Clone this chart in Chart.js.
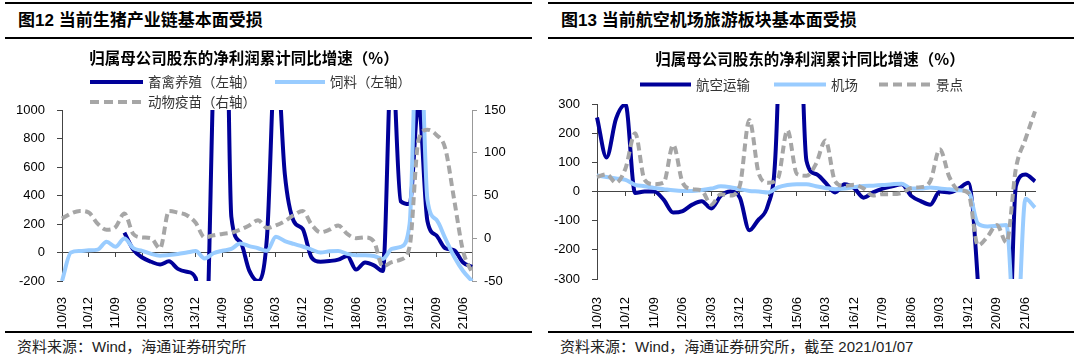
<!DOCTYPE html>
<html><head><meta charset="utf-8">
<script src="https://cdn.jsdelivr.net/npm/chart.js@4.4.0/dist/chart.umd.min.js"></script>
<style>
html,body{margin:0;padding:0;background:#fff;}
#page{position:relative;width:1080px;height:356px;overflow:hidden;background:#fff;font-family:"Liberation Sans","Noto Sans CJK SC",sans-serif;}
.rule{position:absolute;height:2px;background:#000;}
.ptitle{position:absolute;font-weight:bold;font-size:17px;line-height:20px;white-space:nowrap;color:#000;}
.src{position:absolute;font-size:15px;line-height:18px;white-space:nowrap;color:#222;}
.cv{position:absolute;}
</style></head><body>
<div id="page">
 <div class="rule" style="left:5px;top:2px;width:527px"></div>
 <div class="rule" style="left:5px;top:37px;width:527px"></div>
 <div class="rule" style="left:5px;top:331px;width:527px"></div>
 <div class="rule" style="left:548px;top:2px;width:526px"></div>
 <div class="rule" style="left:548px;top:37px;width:526px"></div>
 <div class="rule" style="left:548px;top:331px;width:526px"></div>
 <div class="ptitle" style="left:18px;top:11px">图12 当前生猪产业链基本面受损</div>
 <div class="ptitle" style="left:561px;top:11px">图13 当前航空机场旅游板块基本面受损</div>
 <div class="src" style="left:17px;top:338px">资料来源：Wind，海通证券研究所</div>
 <div class="src" style="left:560px;top:338px">资料来源：Wind，海通证券研究所，截至 2021/01/07</div>
 <div class="cv" style="left:0;top:40px;width:540px;height:290px"><canvas id="c1" width="540" height="290"></canvas></div>
 <div class="cv" style="left:540px;top:40px;width:540px;height:290px"><canvas id="c2" width="540" height="290"></canvas></div>
</div>
<script>
// ---------- data ----------
const quarters = ['10/03','10/06','10/09','10/12','11/03','11/06','11/09','11/12','12/03','12/06','12/09','12/12',
  '13/03','13/06','13/09','13/12','14/03','14/06','14/09','14/12','15/03','15/06','15/09','15/12',
  '16/03','16/06','16/09','16/12','17/03','17/06','17/09','17/12','18/03','18/06','18/09','18/12',
  '19/03','19/06','19/09','19/12','20/03','20/06','20/09','20/12','21/03','21/06','21/09'];

const chartTitle = '归属母公司股东的净利润累计同比增速（%）';

// Figure 12
const pigNames = ['畜禽养殖（左轴）','饲料（左轴）','动物疫苗（右轴）'];
const livestock = [null,null,null,null,null,null,null,140,20,-35,-65,-84,-62,-115,-135,-180,
  -870,1300,3600,250,75,-125,-200,110,1450,550,220,165,-35,-65,-60,-50,-25,-120,-70,-90,
  -130,1400,360,340,1050,220,120,30,15,-70,-100];
const feed = [-200,0,10,15,20,75,40,98,30,12,-10,-22,-17,-10,0,10,-42,-5,12,25,63,45,30,12,
  110,80,60,42,20,0,8,11,-10,-19,-19,-25,-45,25,40,200,1900,370,230,100,-30,-130,-200];
const vaccine = [23,29,32,30,17,10,13,29,5,1,0,-12,32,30,27,18,1,3.5,5,6.5,10,15,21,12,
  15,20,27,32,16,7,10,15,5,0,1,-4,-33,-28,-25,-10,115,127,121,105,45,-15,-40];
const pigLeftTicks = {min:-200, max:1000, step:200};
const pigRightTicks = {min:-50, max:150, step:50};

// Figure 13
const travelNames = ['航空运输','机场','景点'];
const airline = [254,117,250,298,-5,0,0,-28,-72,-67,-45,-33,-58,-15,0,-21,-133,-95,-42,350,
  3000,1200,105,60,30,-3,25,12,-21,-3,10,18,25,-15,-33,-45,0,-3,10,30,-310,-1000,-1500,-1000,20,58,35];
const airport = [55,50,45,40,23,18,12,8,4,2,2,5,10,18,15,8,2,0,-3,14,22,25,25,18,12,8,10,15,
  19,20,22,25,27,10,10,14,10,8,4,0,-110,-120,-118,-115,-555,-25,-55];
const scenic = [50,59,30,80,200,40,25,30,160,30,8,3,-45,-9,-14,20,245,60,30,45,210,60,54,95,
  175,35,19,23,10,-14,-9,-9,-5,12,15,35,145,50,5,-5,-185,-155,-115,-175,80,180,275];
const travelTicks = {min:-300, max:300, step:100};

// ---------- styling ----------
const DARK = '#000099', LIGHT = '#99CCFF', GRAY = '#A6A6A6';
Chart.defaults.font.family = '"Liberation Sans", Arial, sans-serif';
Chart.defaults.font.size = 13;
Chart.defaults.color = '#000';

const headerPlugin = {
  id: 'header',
  afterDraw(chart, args, opts) {
    const ctx = chart.ctx;
    ctx.save();
    ctx.fillStyle = '#000';
    ctx.font = 'bold 15.5px "Noto Sans CJK SC"';
    ctx.textAlign = 'center';
    ctx.textBaseline = 'middle';
    ctx.fillText(opts.title, opts.titleX, opts.titleY);
    chart.data.datasets.forEach((ds, i) => {
      const p = opts.items[i];
      ctx.strokeStyle = ds.borderColor;
      ctx.lineWidth = 4;
      ctx.setLineDash(ds.borderDash ? [9, 5] : []);
      ctx.beginPath();
      ctx.moveTo(p.x, p.y);
      ctx.lineTo(p.x + p.w, p.y);
      ctx.stroke();
      ctx.setLineDash([]);
      ctx.font = '13.5px "Noto Sans CJK SC"';
      ctx.textAlign = 'left';
      ctx.fillStyle = '#333';
      ctx.fillText(ds.label, p.x + p.w + 5, p.y);
    });
    ctx.restore();
  }
};

function lineDs(label, data, color, axis, order, dashed) {
  return {
    label, data, yAxisID: axis, xAxisID: 'x',
    borderColor: color, backgroundColor: color, borderWidth: 4,
    borderDash: dashed ? [8, 4.5] : undefined,
    pointRadius: 0, pointHoverRadius: 0, fill: false,
    cubicInterpolationMode: 'monotone', order
  };
}

function zeroAxis() {
  return {
    type: 'category', position: {y: 0},
    grid: {display: true, drawOnChartArea: false, drawTicks: true, tickLength: 4,
      tickColor: c => (c.index % 3 === 0 ? '#444' : 'rgba(0,0,0,0)')},
    border: {display: true, color: '#444', width: 1},
    ticks: {display: false}
  };
}
function labelAxis(height, pad) {
  return {
    type: 'category', position: 'bottom',
    grid: {display: false}, border: {display: false},
    ticks: {autoSkip: false, maxRotation: 90, minRotation: 90, padding: pad,
      callback: (v, i) => (i % 3 === 0 ? quarters[i] : '')},
    afterFit: s => { s.height = height; }
  };
}
function valueAxis(pos, t, width, pad, color) {
  return {
    position: pos, min: t.min, max: t.max,
    ticks: {stepSize: t.step, padding: pad, callback: v => String(v)},
    grid: {drawOnChartArea: false, drawTicks: true, tickLength: 5, tickColor: color},
    border: {display: true, color: color, width: 1},
    afterFit: s => { s.width = width; }
  };
}

new Chart(document.getElementById('c1'), {
  type: 'line',
  data: {
    labels: quarters,
    datasets: [
      lineDs(pigNames[0], livestock, DARK, 'y', 3, false),
      lineDs(pigNames[1], feed, LIGHT, 'y', 2, false),
      lineDs(pigNames[2], vaccine, GRAY, 'y1', 1, true)
    ]
  },
  options: {
    responsive: false, animation: false, events: [],
    layout: {padding: {top: 70, left: 0, right: 0, bottom: 0}},
    plugins: {
      legend: {display: false}, tooltip: {enabled: false},
      header: {title: chartTitle, titleX: 244, titleY: 18,
        items: [{x: 90, y: 42, w: 53}, {x: 275, y: 42, w: 50}, {x: 90, y: 62, w: 53}]}
    },
    scales: {
      x: zeroAxis(),
      x2: labelAxis(49, 8),
      y: valueAxis('left', pigLeftTicks, 62, 12, '#444'),
      y1: valueAxis('right', pigRightTicks, 68, 7, '#999')
    }
  },
  plugins: [headerPlugin]
});

new Chart(document.getElementById('c2'), {
  type: 'line',
  data: {
    labels: quarters,
    datasets: [
      lineDs(travelNames[0], airline, DARK, 'y', 3, false),
      lineDs(travelNames[1], airport, LIGHT, 'y', 2, false),
      lineDs(travelNames[2], scenic, GRAY, 'y', 1, true)
    ]
  },
  options: {
    responsive: false, animation: false, events: [],
    layout: {padding: {top: 64, left: 0, right: 45, bottom: 0}},
    plugins: {
      legend: {display: false}, tooltip: {enabled: false},
      header: {title: chartTitle, titleX: 270, titleY: 19,
        items: [{x: 100, y: 44.5, w: 51}, {x: 234, y: 44.5, w: 52}, {x: 339, y: 44.5, w: 52}]}
    },
    scales: {
      x: zeroAxis(),
      x2: labelAxis(51, 10),
      y: valueAxis('left', travelTicks, 57, 12, '#444')
    }
  },
  plugins: [headerPlugin]
});
</script>
</body></html>
